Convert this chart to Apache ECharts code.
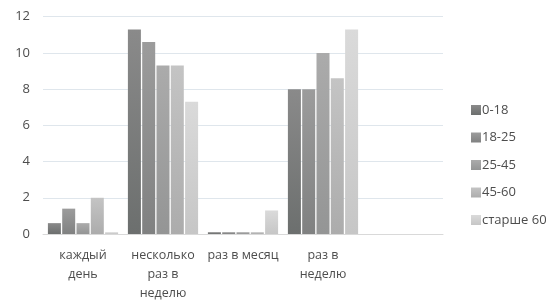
<!DOCTYPE html>
<html><head><meta charset="utf-8">
<script src="https://cdn.jsdelivr.net/npm/echarts@6/dist/echarts.min.js"></script>
<style>html,body{margin:0;padding:0;background:#fff}#c{width:546px;height:303px}</style>
</head><body><div id="c"></div>
<script>
var categories = ['каждый\nдень', 'несколько\nраз в\nнеделю', 'раз в месяц', 'раз в\nнеделю', ''];
var seriesNames = ['0-18', '18-25', '25-45', '45-60', 'старше 60'];
var s0_18 = [0.6, 11.3, 0.1, 8.0, null];
var s18_25 = [1.4, 10.6, 0.1, 8.0, null];
var s25_45 = [0.6, 9.3, 0.1, 10.0, null];
var s45_60 = [2.0, 9.3, 0.1, 8.6, null];
var sOver60 = [0.1, 7.3, 1.3, 11.3, null];
var yTicks = [0, 2, 4, 6, 8, 10, 12];

var allData = [s0_18, s18_25, s25_45, s45_60, sOver60];
var grads = [['#8a8a8a', '#6c6f6e'], ['#9c9c9c', '#808181'], ['#ababab', '#949595'], ['#c4c4c4', '#acacac'], ['#dadada', '#c6c6c6']];
var font = 'Open Sans';
var chart = echarts.init(document.getElementById('c'));
chart.setOption({
  animation: false,
  grid: {left: 43, right: 103, top: 16.7, bottom: 61},
  legend: {
    orient: 'vertical', left: 466, top: 98.5, itemWidth: 10, itemHeight: 10, itemGap: 14.5,
    icon: 'rect',
    textStyle: {color: '#4d4d4d', fontSize: 13, fontFamily: font, padding: [0, 0, 0, -4]},
    data: seriesNames
  },
  xAxis: {
    type: 'category', data: categories,
    axisLine: {lineStyle: {color: '#d9d9d9'}},
    axisTick: {show: false},
    axisLabel: {color: '#4d4d4d', fontSize: 12.5, fontFamily: font, lineHeight: 19, margin: 12, interval: 0}
  },
  yAxis: {
    type: 'value', min: yTicks[0], max: yTicks[yTicks.length - 1], interval: 2,
    axisLine: {show: false}, axisTick: {show: false},
    axisLabel: {color: '#4d4d4d', fontSize: 13, fontFamily: font, margin: 13},
    splitLine: {lineStyle: {color: '#dfe6ec', width: 1}}
  },
  series: allData.map(function (d, i) {
    return {
      name: seriesNames[i], type: 'bar', data: d, barWidth: 13, barGap: '10%',
      itemStyle: {color: new echarts.graphic.LinearGradient(0, 0, 0, 1, [{offset: 0, color: grads[i][0]}, {offset: 1, color: grads[i][1]}])}
    };
  })
});
</script></body></html>
